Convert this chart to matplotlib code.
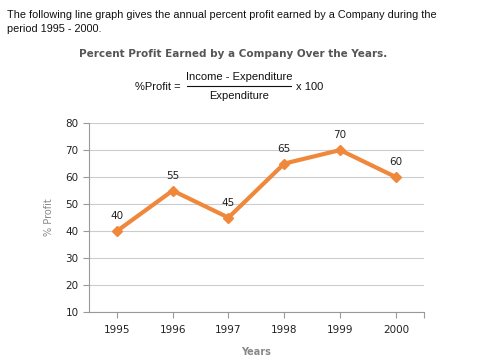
import matplotlib.pyplot as plt

# data
years = ['1995', '1996', '1997', '1998', '1999', '2000']
profit = [40, 55, 45, 65, 70, 60]
yticks = [10, 20, 30, 40, 50, 60, 70, 80]

line_color = '#f0883c'

fig = plt.figure(figsize=(4.86, 3.63), dpi=100)
ax = fig.add_axes([0.183, 0.140, 0.689, 0.521])

xs = [i + 0.5 for i in range(len(years))]
ax.plot(xs, profit, color=line_color, lw=3, marker='D', ms=5, zorder=3)
for x, v in zip(xs, profit):
    ax.annotate(str(v), (x, v), xytext=(0, 7), textcoords='offset points',
                ha='center', va='bottom', fontsize=7.5, color='#222222')

ax.set_xlim(0, 6)
ax.set_ylim(10, 80)
ax.set_yticks(yticks)
ax.set_xticks(xs + [6])
ax.set_xticklabels(years + [''])
ax.yaxis.grid(True, color='#cccccc', lw=0.8)
ax.set_axisbelow(True)
for s in ['top', 'right']:
    ax.spines[s].set_visible(False)
for s in ['left', 'bottom']:
    ax.spines[s].set_color('#999999')
ax.tick_params(axis='both', colors='#999999', labelcolor='#222222', labelsize=7.5, length=4)
ax.tick_params(axis='x', pad=5)

ax.set_ylabel('% Profit', fontsize=7, color='#888888', labelpad=8)
ax.set_xlabel('Years', fontsize=7, color='#888888', fontweight='bold', labelpad=9)

# header text
hdr = dict(family='Liberation Sans', fontsize=7.8, color='#111111', va='center')
fig.text(7 / 486, 1 - 15 / 363, 'The following line graph gives the annual percent profit earned by a Company during the', **hdr)
fig.text(7 / 486, 1 - 29 / 363, 'period 1995 - 2000.', **hdr)

fig.text(233 / 486, 1 - 54 / 363, 'Percent Profit Earned by a Company Over the Years.',
         ha='center', va='center', fontsize=7.5, fontweight='bold', color='#555555')

fm = dict(family='Liberation Sans', fontsize=8, color='#111111', va='center')
fig.text(181 / 486, 1 - 87 / 363, '%Profit =', ha='right', **fm)
fig.text(239 / 486, 1 - 77 / 363, 'Income - Expenditure', ha='center', **fm)
fig.text(239 / 486, 1 - 96 / 363, 'Expenditure', ha='center', **fm)
fig.text(296 / 486, 1 - 87 / 363, 'x 100', ha='left', **fm)
fig.add_artist(plt.Line2D([187 / 486, 291 / 486], [1 - 86 / 363, 1 - 86 / 363], color='#111111', lw=0.8))

fig.savefig('out.png', dpi=100)
